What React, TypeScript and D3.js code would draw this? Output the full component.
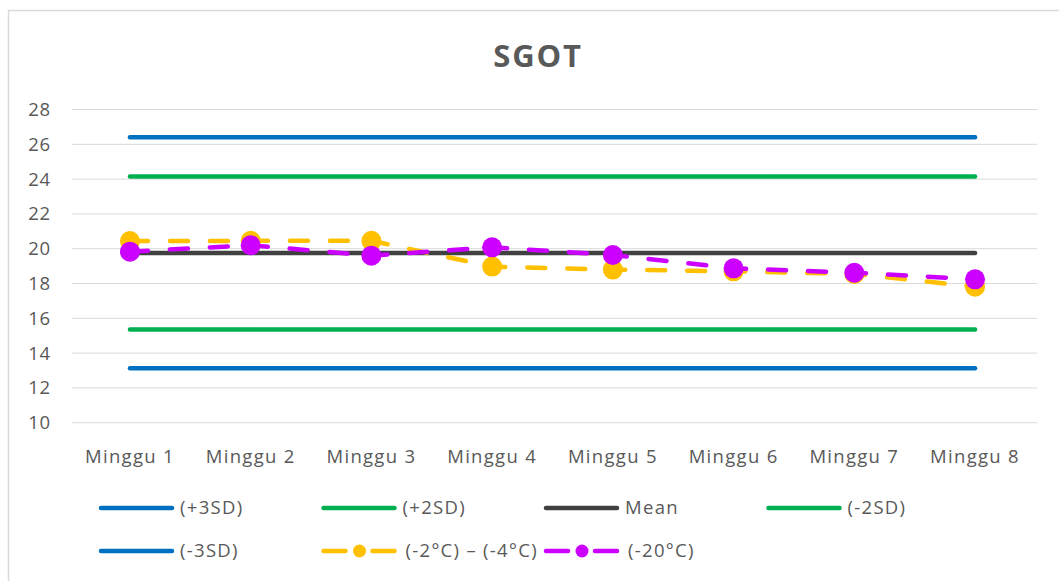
import React from "react";
import * as d3 from "d3";

const categories = ["Minggu 1", "Minggu 2", "Minggu 3", "Minggu 4", "Minggu 5", "Minggu 6", "Minggu 7", "Minggu 8"];
const yTicks = [10, 12, 14, 16, 18, 20, 22, 24, 26, 28];
const plus3SD = [26.4, 26.4, 26.4, 26.4, 26.4, 26.4, 26.4, 26.4];
const plus2SD = [24.15, 24.15, 24.15, 24.15, 24.15, 24.15, 24.15, 24.15];
const meanVals = [19.75, 19.75, 19.75, 19.75, 19.75, 19.75, 19.75, 19.75];
const minus2SD = [15.35, 15.35, 15.35, 15.35, 15.35, 15.35, 15.35, 15.35];
const minus3SD = [13.13, 13.13, 13.13, 13.13, 13.13, 13.13, 13.13, 13.13];
const coldSeries = [20.44, 20.45, 20.45, 18.97, 18.8, 18.7, 18.55, 17.82];
const frozenSeries = [19.83, 20.2, 19.6, 20.08, 19.64, 18.87, 18.62, 18.24];

const FONT = "'Open Sans', 'Liberation Sans', sans-serif";
const TEXT = "#595959";

type S = { name: string; values: number[]; color: string; dashed: boolean; marker: boolean };
const series: S[] = [
  { name: "(+3SD)", values: plus3SD, color: "#0070C0", dashed: false, marker: false },
  { name: "(+2SD)", values: plus2SD, color: "#00B050", dashed: false, marker: false },
  { name: "Mean", values: meanVals, color: "#404040", dashed: false, marker: false },
  { name: "(-2SD)", values: minus2SD, color: "#00B050", dashed: false, marker: false },
  { name: "(-3SD)", values: minus3SD, color: "#0070C0", dashed: false, marker: false },
  { name: "(-2°C) – (-4°C)", values: coldSeries, color: "#FFC000", dashed: true, marker: true },
  { name: "(-20°C)", values: frozenSeries, color: "#CC00FF", dashed: true, marker: true },
];

export default function App() {
  const W = 1059, H = 581;
  const x = d3.scaleBand<string>().domain(categories).range([69.6, 1035.4]);
  const y = d3.scaleLinear().domain([10, 28]).range([422.7, 109.5]);
  const cx = (c: string) => (x(c) as number) + x.bandwidth() / 2;
  const line = d3.line<number>().x((_, i) => cx(categories[i])).y((v) => y(v));

  const legendCols = [101, 323.5, 546, 768.5];
  const legendRows = [508, 551];

  return (
    <svg width={W} height={H} style={{ position: "absolute", left: 0, top: 0 }} fontFamily={FONT}>
      <rect x={0} y={0} width={W} height={H} fill="#fff" />
      <path d={`M8.5,${H} V10.5 H${W}`} fill="none" stroke="#D9D9D9" strokeWidth={1.5} />
      <text x={538} y={67} textAnchor="middle" fontSize={31} fontWeight="bold" fill={TEXT} letterSpacing={1.8}>SGOT</text>
      {yTicks.map((t) => (
        <g key={t}>
          <line x1={72} x2={1037} y1={y(t)} y2={y(t)} stroke="#D9D9D9" strokeWidth={1} />
          <text x={51} y={y(t)} dy="0.35em" textAnchor="end" fontSize={18.5} fill={TEXT} letterSpacing={0.8}>{t}</text>
        </g>
      ))}
      {categories.map((c) => (
        <text key={c} x={cx(c)} y={463} textAnchor="middle" fontSize={18.5} fill={TEXT} letterSpacing={1.3}>{c}</text>
      ))}
      {series.map((s) => (
        <g key={s.name}>
          <path d={line(s.values) || ""} fill="none" stroke={s.color} strokeWidth={4.5} strokeLinecap="round"
            strokeDasharray={s.dashed ? "18 22" : undefined} />
          {s.marker && s.values.map((v, i) => (
            <circle key={i} cx={cx(categories[i])} cy={y(v)} r={10} fill={s.color} />
          ))}
        </g>
      ))}
      {series.map((s, i) => {
        const lx = legendCols[i % 4];
        const ly = legendRows[Math.floor(i / 4)];
        return (
          <g key={"lg" + s.name}>
            {s.dashed ? (
              <>
                <line x1={lx} x2={lx + 22} y1={ly} y2={ly} stroke={s.color} strokeWidth={4.5} strokeLinecap="round" />
                <line x1={lx + 49} x2={lx + 71} y1={ly} y2={ly} stroke={s.color} strokeWidth={4.5} strokeLinecap="round" />
                <circle cx={lx + 36} cy={ly} r={6.5} fill={s.color} />
              </>
            ) : (
              <line x1={lx} x2={lx + 71} y1={ly} y2={ly} stroke={s.color} strokeWidth={4.5} strokeLinecap="round" />
            )}
            <text x={lx + (s.dashed ? 82 : 79)} y={ly} dy="0.35em" fontSize={18.5} fill={TEXT} letterSpacing={1.3}>{s.name}</text>
          </g>
        );
      })}
    </svg>
  );
}
